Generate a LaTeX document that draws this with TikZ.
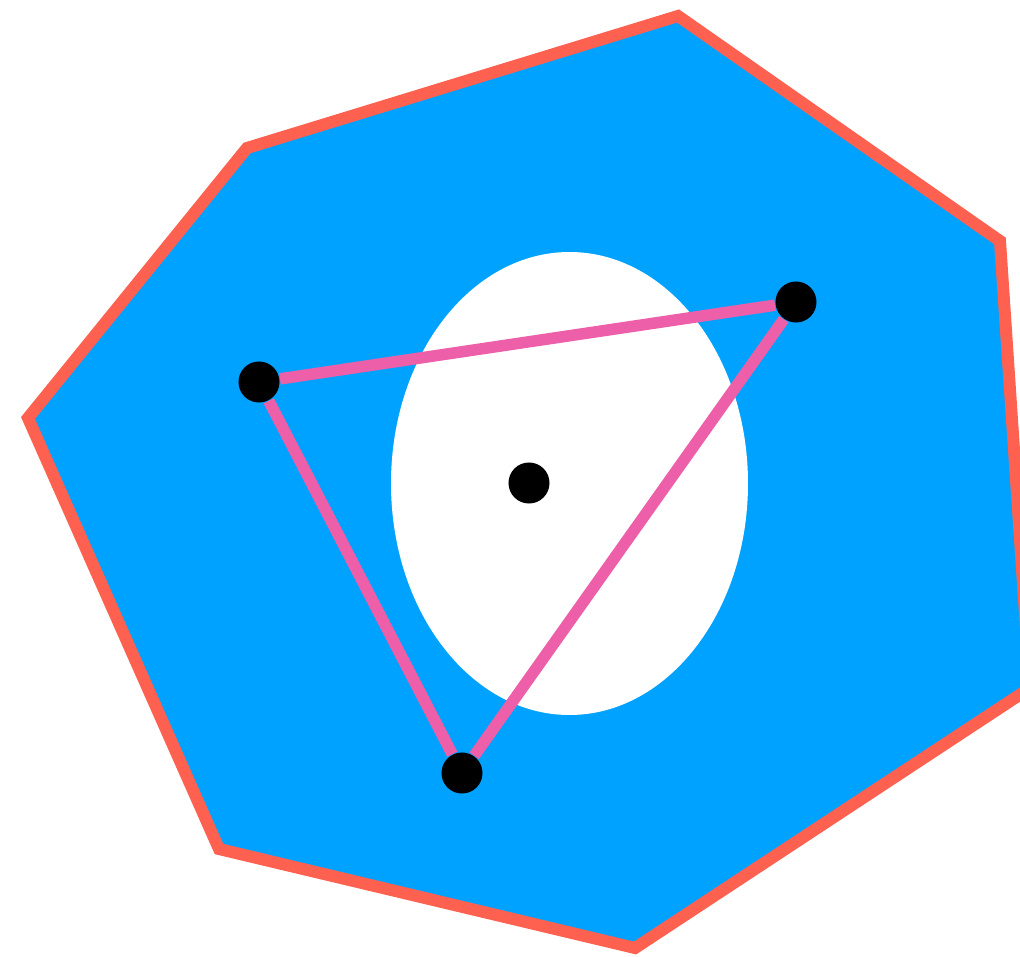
\documentclass[tikz,border=0pt]{standalone}
\usepackage{tikz}
\definecolor{polyfill}{RGB}{0,162,255}
\definecolor{polyedge}{RGB}{255,97,80}
\definecolor{triedge}{RGB}{238,95,170}
\tikzset{
  dot/.style={circle, fill=black, inner sep=0pt, minimum size=0.41cm},
  tri/.style={triedge, line width=0.115cm},
}

\begin{document}
\begin{tikzpicture}[x=0.01cm, y=-0.01cm]
	\clip (0,0) rectangle (1020,957);

	% Outer polygon
	\fill[polyfill] (678,16) -- (1000,241) -- (1030,688) -- (635,948)
		-- (219,849) -- (28,418) -- (247,148) -- cycle;
	% Hole
	\fill[white] (569.5,483.5) ellipse [x radius=178.5, y radius=231.5];
	\draw[polyedge, line width=0.12cm, line join=miter] (678,16) -- (1000,241) -- (1030,688)
		-- (635,948) -- (219,849) -- (28,418) -- (247,148) -- cycle;

	% Triangle vertices and centre
	\node[dot] (left) at (259,382) {};
	\node[dot] (right) at (796,302) {};
	\node[dot] (bottom) at (462,773) {};
	\node[dot] (centre) at (529,483) {};

	\draw[tri] (left) -- (right);
	\draw[tri] (right) -- (bottom);
	\draw[tri] (bottom) -- (left);
\end{tikzpicture}
\end{document}
